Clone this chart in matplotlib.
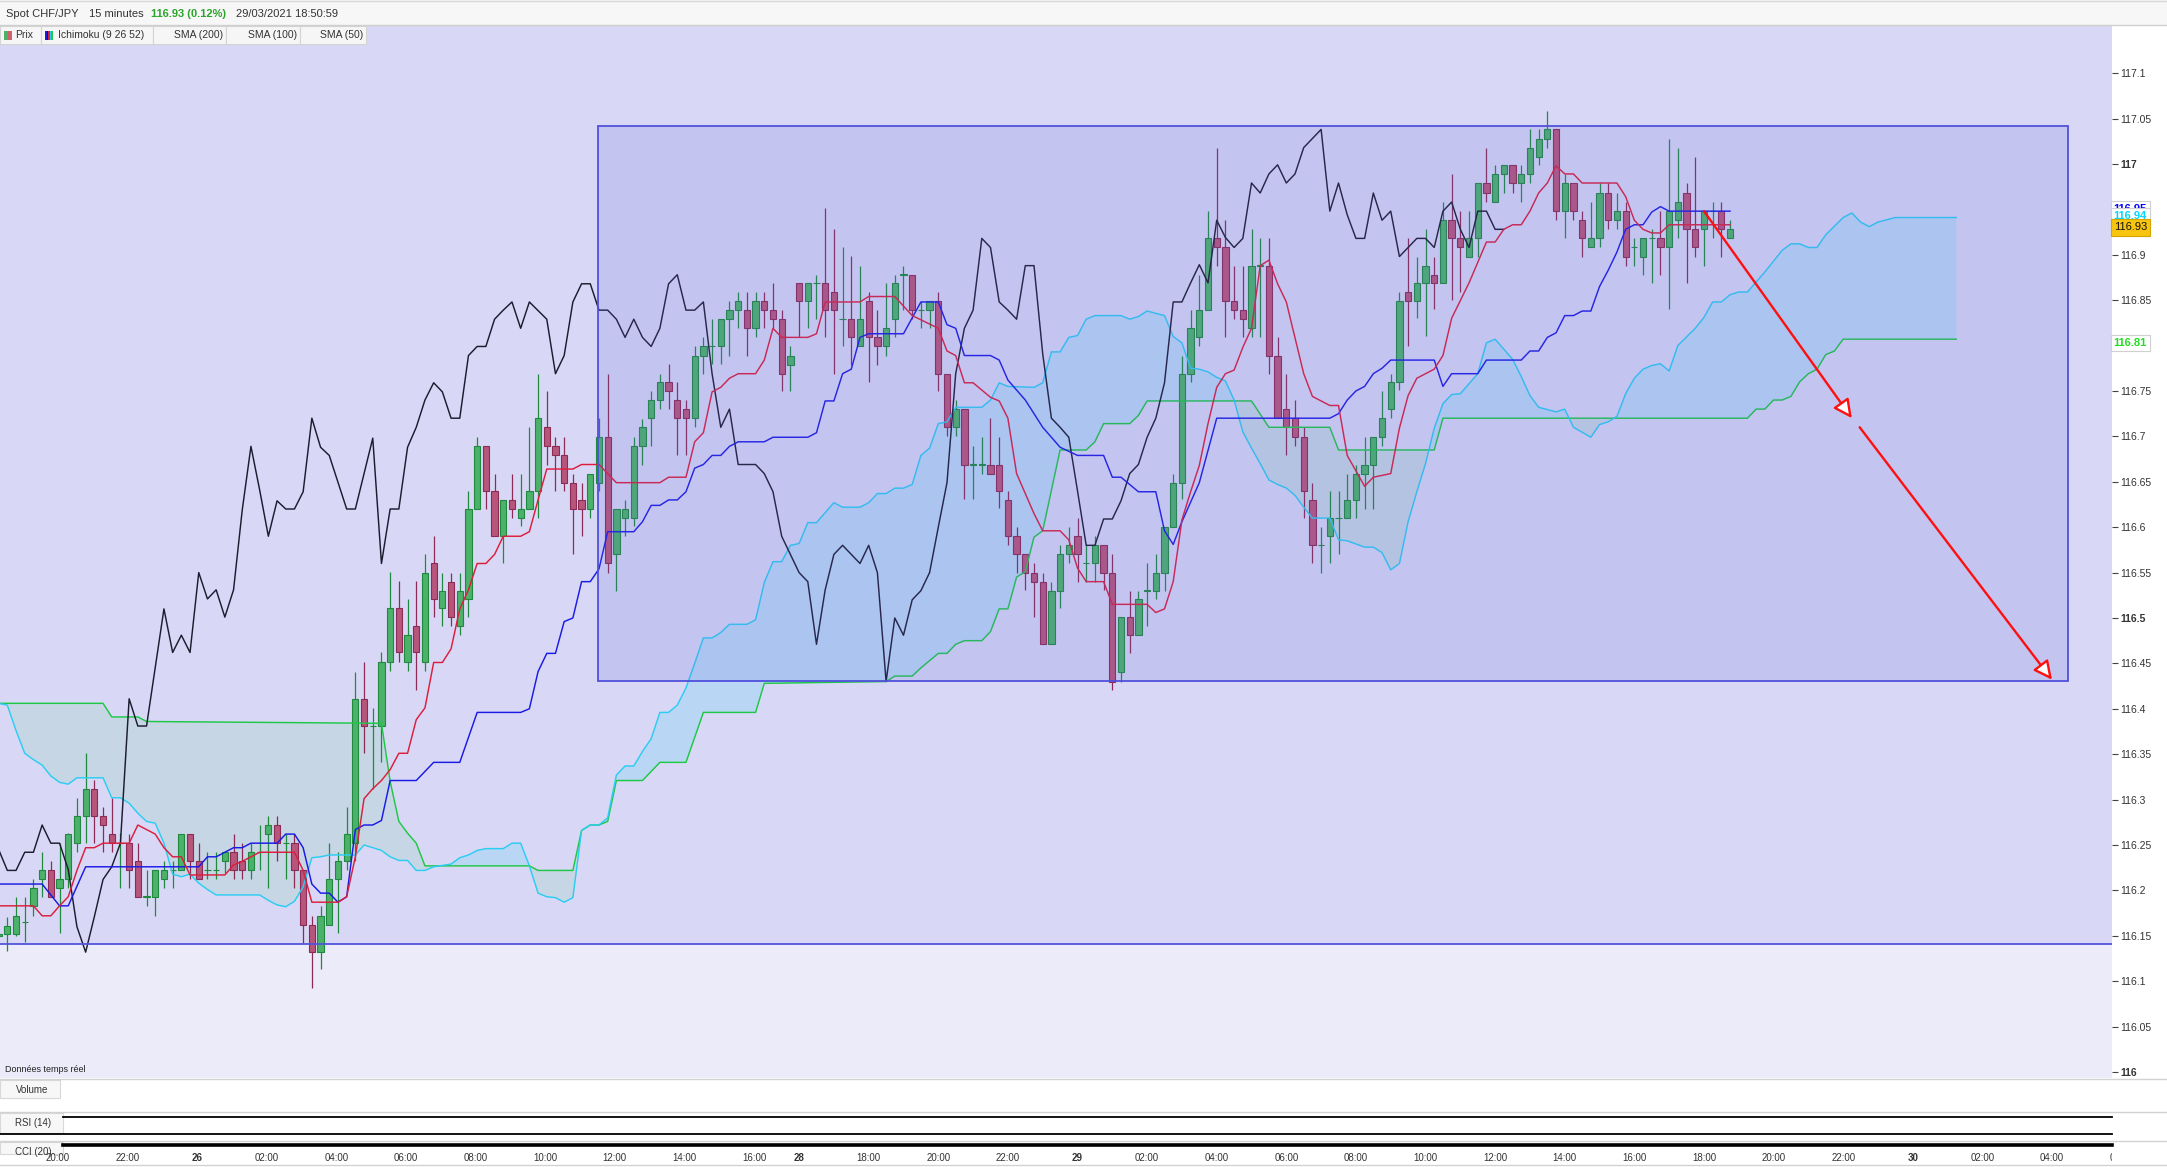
import numpy as np
import matplotlib
matplotlib.use("Agg")
import matplotlib.pyplot as plt
from matplotlib.patches import Rectangle
from matplotlib.lines import Line2D
import matplotlib.transforms as mtransforms

plt.rcParams['font.family'] = ['Liberation Sans', 'DejaVu Sans']
NARROW = ['Liberation Sans Narrow', 'Liberation Sans', 'DejaVu Sans']

# ---- 15 minute candles, bar -1 .. 198 ----
first_bar = -1
opens = [
    116.150, 116.152, 116.152, 116.165, 116.183, 116.212, 116.222, 116.203, 116.212, 116.252,
    116.282, 116.312, 116.282, 116.262, 116.252, 116.252, 116.232, 116.193, 116.193, 116.212,
    116.222, 116.222, 116.262, 116.232, 116.222, 116.222, 116.232, 116.242, 116.232, 116.222,
    116.242, 116.262, 116.272, 116.252, 116.252, 116.222, 116.162, 116.132, 116.162, 116.212,
    116.232, 116.252, 116.411, 116.381, 116.381, 116.452, 116.511, 116.452, 116.491, 116.452,
    116.560, 116.511, 116.540, 116.491, 116.521, 116.620, 116.689, 116.640, 116.590, 116.630,
    116.610, 116.620, 116.640, 116.710, 116.689, 116.679, 116.649, 116.630, 116.620, 116.649,
    116.699, 116.570, 116.610, 116.610, 116.689, 116.720, 116.740, 116.760, 116.740, 116.730,
    116.720, 116.789, 116.799, 116.799, 116.829, 116.839, 116.839, 116.819, 116.849, 116.839,
    116.829, 116.779, 116.869, 116.849, 116.869, 116.869, 116.859, 116.829, 116.829, 116.799,
    116.849, 116.809, 116.799, 116.829, 116.878, 116.878, 116.839, 116.839, 116.849, 116.769,
    116.710, 116.730, 116.669, 116.669, 116.669, 116.669, 116.630, 116.590, 116.570, 116.550,
    116.540, 116.471, 116.530, 116.570, 116.590, 116.560, 116.560, 116.580, 116.550, 116.440,
    116.501, 116.481, 116.530, 116.530, 116.550, 116.600, 116.649, 116.769, 116.809, 116.839,
    116.918, 116.908, 116.849, 116.839, 116.819, 116.888, 116.888, 116.789, 116.730, 116.720,
    116.699, 116.630, 116.580, 116.590, 116.610, 116.610, 116.630, 116.659, 116.669, 116.699,
    116.730, 116.760, 116.859, 116.849, 116.869, 116.878, 116.869, 116.938, 116.918, 116.898,
    116.918, 116.979, 116.958, 116.989, 116.999, 116.979, 116.989, 117.008, 117.028, 117.038,
    116.948, 116.979, 116.938, 116.908, 116.918, 116.968, 116.938, 116.948, 116.908, 116.898,
    116.918, 116.918, 116.908, 116.938, 116.968, 116.928, 116.928, 116.948, 116.948, 116.918,
]
highs = [
    116.156, 116.171, 116.193, 116.193, 116.212, 116.242, 116.232, 116.252, 116.263, 116.302,
    116.351, 116.322, 116.292, 116.302, 116.263, 116.262, 116.252, 116.222, 116.222, 116.232,
    116.232, 116.262, 116.262, 116.252, 116.242, 116.242, 116.242, 116.262, 116.252, 116.252,
    116.272, 116.282, 116.282, 116.262, 116.262, 116.222, 116.172, 116.183, 116.252, 116.242,
    116.292, 116.441, 116.451, 116.401, 116.462, 116.551, 116.541, 116.521, 116.541, 116.570,
    116.590, 116.550, 116.550, 116.550, 116.640, 116.699, 116.689, 116.659, 116.630, 116.659,
    116.659, 116.710, 116.769, 116.750, 116.699, 116.699, 116.659, 116.649, 116.659, 116.720,
    116.769, 116.620, 116.630, 116.699, 116.719, 116.750, 116.769, 116.780, 116.760, 116.740,
    116.799, 116.809, 116.829, 116.829, 116.849, 116.859, 116.859, 116.859, 116.859, 116.869,
    116.839, 116.799, 116.869, 116.869, 116.878, 116.952, 116.928, 116.909, 116.899, 116.888,
    116.859, 116.839, 116.869, 116.878, 116.888, 116.878, 116.849, 116.849, 116.859, 116.769,
    116.740, 116.730, 116.689, 116.699, 116.720, 116.699, 116.640, 116.600, 116.570, 116.560,
    116.550, 116.540, 116.580, 116.600, 116.610, 116.580, 116.590, 116.580, 116.570, 116.501,
    116.530, 116.530, 116.560, 116.570, 116.600, 116.659, 116.789, 116.839, 116.878, 116.948,
    117.018, 116.938, 116.888, 116.888, 116.928, 116.918, 116.918, 116.809, 116.769, 116.740,
    116.710, 116.649, 116.600, 116.640, 116.640, 116.659, 116.669, 116.699, 116.699, 116.750,
    116.769, 116.859, 116.918, 116.898, 116.928, 116.898, 116.958, 116.989, 116.948, 116.948,
    116.979, 117.018, 116.999, 116.999, 116.999, 116.999, 117.038, 117.038, 117.058, 117.038,
    116.989, 116.979, 116.948, 116.958, 116.979, 116.979, 116.968, 116.958, 116.918, 116.918,
    116.928, 116.948, 117.028, 117.018, 116.979, 117.008, 116.948, 116.958, 116.958, 116.938,
]
lows = [
    116.144, 116.133, 116.150, 116.143, 116.172, 116.193, 116.193, 116.153, 116.203, 116.242,
    116.252, 116.252, 116.242, 116.242, 116.203, 116.203, 116.193, 116.183, 116.172, 116.203,
    116.203, 116.222, 116.212, 116.212, 116.212, 116.212, 116.219, 116.212, 116.212, 116.212,
    116.222, 116.203, 116.232, 116.212, 116.203, 116.142, 116.092, 116.113, 116.162, 116.153,
    116.222, 116.232, 116.351, 116.312, 116.341, 116.442, 116.452, 116.442, 116.421, 116.442,
    116.501, 116.491, 116.491, 116.481, 116.501, 116.620, 116.620, 116.590, 116.561, 116.610,
    116.601, 116.620, 116.610, 116.669, 116.640, 116.640, 116.570, 116.590, 116.610, 116.640,
    116.550, 116.530, 116.590, 116.601, 116.669, 116.689, 116.730, 116.730, 116.680, 116.680,
    116.710, 116.769, 116.780, 116.780, 116.789, 116.819, 116.789, 116.809, 116.819, 116.819,
    116.750, 116.750, 116.809, 116.819, 116.829, 116.809, 116.769, 116.799, 116.779, 116.799,
    116.760, 116.779, 116.789, 116.809, 116.839, 116.829, 116.819, 116.819, 116.750, 116.700,
    116.700, 116.631, 116.631, 116.659, 116.659, 116.621, 116.580, 116.550, 116.531, 116.501,
    116.471, 116.471, 116.511, 116.560, 116.540, 116.540, 116.540, 116.531, 116.421, 116.430,
    116.461, 116.481, 116.491, 116.521, 116.530, 116.600, 116.631, 116.760, 116.799, 116.839,
    116.888, 116.809, 116.829, 116.809, 116.809, 116.809, 116.769, 116.720, 116.680, 116.689,
    116.610, 116.560, 116.550, 116.560, 116.570, 116.610, 116.610, 116.620, 116.620, 116.689,
    116.720, 116.751, 116.800, 116.830, 116.810, 116.840, 116.869, 116.850, 116.859, 116.898,
    116.898, 116.958, 116.958, 116.968, 116.968, 116.958, 116.979, 116.999, 117.018, 116.938,
    116.918, 116.938, 116.898, 116.908, 116.908, 116.928, 116.928, 116.888, 116.888, 116.878,
    116.869, 116.878, 116.840, 116.918, 116.869, 116.898, 116.888, 116.918, 116.898, 116.918,
]
closes = [
    116.152, 116.161, 116.172, 116.165, 116.203, 116.222, 116.193, 116.212, 116.262, 116.282,
    116.312, 116.282, 116.272, 116.252, 116.252, 116.222, 116.193, 116.193, 116.222, 116.222,
    116.222, 116.262, 116.232, 116.212, 116.222, 116.222, 116.242, 116.222, 116.222, 116.242,
    116.242, 116.272, 116.252, 116.252, 116.222, 116.162, 116.132, 116.172, 116.212, 116.232,
    116.262, 116.411, 116.381, 116.381, 116.452, 116.511, 116.462, 116.481, 116.462, 116.550,
    116.521, 116.530, 116.501, 116.530, 116.620, 116.689, 116.640, 116.590, 116.630, 116.620,
    116.620, 116.640, 116.720, 116.689, 116.679, 116.649, 116.620, 116.620, 116.659, 116.699,
    116.560, 116.620, 116.620, 116.689, 116.710, 116.740, 116.760, 116.750, 116.720, 116.720,
    116.789, 116.799, 116.799, 116.829, 116.839, 116.849, 116.819, 116.849, 116.839, 116.829,
    116.769, 116.789, 116.849, 116.869, 116.869, 116.839, 116.839, 116.829, 116.809, 116.829,
    116.809, 116.799, 116.819, 116.869, 116.878, 116.839, 116.839, 116.849, 116.769, 116.710,
    116.730, 116.669, 116.669, 116.669, 116.659, 116.640, 116.590, 116.570, 116.550, 116.540,
    116.471, 116.530, 116.570, 116.580, 116.570, 116.560, 116.580, 116.550, 116.430, 116.501,
    116.481, 116.521, 116.530, 116.550, 116.600, 116.649, 116.769, 116.819, 116.839, 116.918,
    116.908, 116.849, 116.839, 116.829, 116.888, 116.888, 116.789, 116.720, 116.710, 116.699,
    116.640, 116.580, 116.580, 116.610, 116.610, 116.630, 116.659, 116.669, 116.699, 116.720,
    116.760, 116.849, 116.849, 116.869, 116.888, 116.869, 116.938, 116.918, 116.908, 116.918,
    116.979, 116.968, 116.989, 116.999, 116.979, 116.989, 117.018, 117.028, 117.038, 116.948,
    116.979, 116.948, 116.918, 116.918, 116.968, 116.938, 116.948, 116.898, 116.908, 116.918,
    116.918, 116.908, 116.948, 116.958, 116.928, 116.908, 116.948, 116.948, 116.928, 116.928,
]

# ---- Ichimoku lines, (bar, price) vertices ----
tenkan = [(-1, 116.183), (3, 116.183), (4, 116.172), (5, 116.172), (6, 116.183), (7, 116.193),
          (8, 116.222), (9, 116.247), (10, 116.247), (11, 116.252), (14, 116.252), (15, 116.272),
          (16, 116.267), (17, 116.262), (18, 116.247), (19, 116.237), (20, 116.237), (21, 116.217),
          (25, 116.217), (26, 116.228), (27, 116.232), (28, 116.237), (29, 116.242), (33, 116.242),
          (34, 116.222), (35, 116.187), (38, 116.187), (39, 116.193), (40, 116.237), (41, 116.301),
          (42, 116.312), (43, 116.321), (44, 116.333), (45, 116.351), (46, 116.351), (47, 116.388),
          (48, 116.401), (49, 116.451), (50, 116.451), (51, 116.466), (52, 116.510), (53, 116.531),
          (54, 116.560), (55, 116.560), (56, 116.570), (57, 116.590), (59, 116.590), (60, 116.595),
          (61, 116.630), (62, 116.664), (65, 116.664), (66, 116.669), (68, 116.669), (70, 116.649),
          (75, 116.649), (76, 116.655), (78, 116.655), (79, 116.694), (80, 116.704), (81, 116.749),
          (82, 116.754), (83, 116.764), (84, 116.769), (86, 116.769), (87, 116.784), (88, 116.819),
          (89, 116.809), (92, 116.809), (93, 116.813), (94, 116.848), (98, 116.848), (99, 116.854),
          (102, 116.854), (104, 116.833), (107, 116.819), (108, 116.794), (109, 116.789),
          (110, 116.759), (111, 116.759), (113, 116.743), (114, 116.739), (115, 116.720),
          (116, 116.659), (118, 116.615), (119, 116.596), (121, 116.596), (122, 116.586),
          (123, 116.555), (124, 116.540), (126, 116.540), (127, 116.515), (131, 116.515),
          (132, 116.506), (133, 116.510), (134, 116.540), (135, 116.608), (136, 116.639),
          (137, 116.668), (138, 116.714), (139, 116.754), (140, 116.769), (141, 116.773),
          (142, 116.798), (143, 116.819), (144, 116.888), (145, 116.894), (146, 116.868),
          (147, 116.848), (149, 116.769), (150, 116.744), (152, 116.734), (153, 116.734),
          (154, 116.679), (156, 116.645), (157, 116.655), (159, 116.659), (160, 116.709),
          (161, 116.745), (162, 116.764), (164, 116.774), (165, 116.789), (166, 116.830),
          (168, 116.869), (170, 116.914), (171, 116.914), (172, 116.928), (173, 116.933),
          (174, 116.933), (175, 116.948), (176, 116.968), (177, 116.979), (178, 116.998),
          (179, 116.989), (180, 116.989), (181, 116.979), (185, 116.979), (186, 116.964),
          (187, 116.938), (188, 116.928), (189, 116.924), (190, 116.924), (191, 116.933),
          (198, 116.933)]

kijun = [(-1, 116.207), (4, 116.207), (6, 116.183), (7, 116.183), (9, 116.226), (22, 116.226),
         (23, 116.237), (24, 116.237), (25, 116.242), (26, 116.247), (27, 116.247), (28, 116.252),
         (31, 116.252), (32, 116.262), (33, 116.262), (34, 116.247), (35, 116.207), (36, 116.197),
         (37, 116.197), (38, 116.187), (39, 116.193), (40, 116.267), (41, 116.272), (42, 116.272),
         (43, 116.277), (44, 116.321), (47, 116.321), (49, 116.341), (52, 116.341), (54, 116.396),
         (59, 116.396), (60, 116.400), (61, 116.441), (62, 116.461), (63, 116.461), (64, 116.496),
         (65, 116.500), (66, 116.540), (67, 116.540), (68, 116.554), (69, 116.595), (72, 116.595),
         (73, 116.606), (74, 116.624), (75, 116.624), (76, 116.630), (77, 116.630), (78, 116.639),
         (79, 116.665), (80, 116.669), (81, 116.679), (82, 116.679), (83, 116.689), (84, 116.694),
         (87, 116.694), (88, 116.699), (92, 116.699), (93, 116.704), (94, 116.739), (95, 116.739),
         (96, 116.769), (97, 116.774), (98, 116.809), (99, 116.813), (103, 116.813), (105, 116.848),
         (107, 116.848), (108, 116.823), (109, 116.819), (110, 116.789), (113, 116.789),
         (114, 116.784), (115, 116.762), (117, 116.740), (119, 116.710), (121, 116.688),
         (123, 116.679), (126, 116.679), (127, 116.655), (128, 116.655), (130, 116.639),
         (132, 116.639), (133, 116.596), (134, 116.581), (135, 116.606), (137, 116.649),
         (139, 116.720), (152, 116.720), (153, 116.725), (154, 116.740), (155, 116.750),
         (156, 116.755), (157, 116.769), (158, 116.775), (159, 116.784), (164, 116.784),
         (165, 116.755), (166, 116.769), (169, 116.769), (170, 116.784), (174, 116.784),
         (175, 116.794), (176, 116.794), (177, 116.809), (178, 116.814), (179, 116.833),
         (180, 116.833), (181, 116.838), (182, 116.838), (183, 116.865), (184, 116.883),
         (185, 116.903), (186, 116.928), (187, 116.933), (188, 116.933), (189, 116.947),
         (190, 116.953), (191, 116.948), (198, 116.948)]

chikou = [(-1, 116.245), (0, 116.222), (1, 116.222), (2, 116.242), (3, 116.242), (4, 116.272),
          (5, 116.252), (6, 116.252), (7, 116.223), (8, 116.160), (9, 116.132), (10, 116.171),
          (11, 116.212), (12, 116.226), (13, 116.252), (14, 116.411), (15, 116.381), (16, 116.381),
          (18, 116.510), (19, 116.462), (20, 116.481), (21, 116.462), (22, 116.550), (23, 116.521),
          (24, 116.531), (25, 116.501), (26, 116.531), (27, 116.619), (28, 116.689), (29, 116.641),
          (30, 116.590), (31, 116.629), (32, 116.620), (33, 116.620), (34, 116.639), (35, 116.720),
          (36, 116.688), (37, 116.679), (39, 116.620), (40, 116.620), (42, 116.698), (43, 116.560),
          (44, 116.620), (45, 116.620), (46, 116.688), (47, 116.710), (48, 116.740), (49, 116.759),
          (50, 116.749), (51, 116.720), (52, 116.720), (53, 116.789), (54, 116.799), (55, 116.799),
          (56, 116.829), (57, 116.839), (58, 116.848), (59, 116.819), (60, 116.848), (62, 116.829),
          (63, 116.769), (64, 116.789), (65, 116.848), (66, 116.868), (67, 116.868), (68, 116.839),
          (69, 116.839), (70, 116.829), (71, 116.809), (72, 116.829), (73, 116.809), (74, 116.799),
          (75, 116.819), (76, 116.868), (77, 116.878), (78, 116.839), (79, 116.839), (80, 116.848),
          (81, 116.769), (82, 116.710), (83, 116.730), (84, 116.669), (86, 116.669), (87, 116.659),
          (88, 116.639), (89, 116.590), (90, 116.570), (91, 116.550), (92, 116.540), (93, 116.471),
          (94, 116.531), (95, 116.570), (96, 116.580), (98, 116.560), (99, 116.580), (100, 116.550),
          (101, 116.430), (102, 116.500), (103, 116.481), (104, 116.520), (105, 116.530),
          (106, 116.550), (107, 116.600), (108, 116.649), (109, 116.769), (110, 116.819),
          (111, 116.839), (112, 116.918), (113, 116.908), (114, 116.848), (115, 116.839),
          (116, 116.829), (117, 116.888), (118, 116.888), (119, 116.791), (120, 116.720),
          (121, 116.710), (122, 116.699), (123, 116.640), (124, 116.580), (125, 116.580),
          (126, 116.609), (127, 116.609), (128, 116.629), (129, 116.659), (130, 116.669),
          (131, 116.699), (132, 116.720), (133, 116.759), (134, 116.848), (135, 116.848),
          (136, 116.869), (137, 116.889), (138, 116.869), (139, 116.938), (140, 116.919),
          (141, 116.908), (142, 116.918), (143, 116.979), (144, 116.968), (145, 116.989),
          (146, 116.999), (147, 116.979), (148, 116.989), (149, 117.018), (151, 117.038),
          (152, 116.948), (153, 116.979), (154, 116.944), (155, 116.918), (156, 116.918),
          (157, 116.968), (158, 116.938), (159, 116.948), (160, 116.898), (161, 116.908),
          (162, 116.918), (163, 116.918), (164, 116.908), (165, 116.948), (166, 116.958),
          (167, 116.928), (168, 116.908), (169, 116.948), (170, 116.948), (171, 116.928),
          (172, 116.928)]

senkou_a = [(-1, 116.406), (0, 116.404), (1, 116.376), (2, 116.351), (3, 116.344), (4, 116.338),
            (5, 116.326), (6, 116.319), (7, 116.317), (8, 116.324), (11, 116.324), (12, 116.302),
            (13, 116.302), (14, 116.296), (15, 116.285), (16, 116.276), (17, 116.274), (18, 116.252),
            (19, 116.218), (20, 116.215), (21, 116.218), (22, 116.208), (23, 116.201), (24, 116.195),
            (29, 116.195), (30, 116.189), (31, 116.184), (32, 116.182), (33, 116.188), (34, 116.204),
            (35, 116.236), (36, 116.237), (37, 116.239), (40, 116.239), (41, 116.250), (43, 116.244),
            (44, 116.237), (45, 116.233), (46, 116.233), (47, 116.222), (48, 116.222), (49, 116.226),
            (51, 116.229), (52, 116.236), (53, 116.239), (54, 116.244), (55, 116.246), (57, 116.246),
            (58, 116.252), (59, 116.252), (60, 116.227), (61, 116.197), (62, 116.193), (63, 116.192),
            (64, 116.187), (65, 116.192), (66, 116.266), (67, 116.272), (68, 116.272), (69, 116.280),
            (70, 116.327), (71, 116.337), (72, 116.337), (73, 116.353), (74, 116.367), (75, 116.396),
            (76, 116.396), (77, 116.404), (78, 116.423), (79, 116.450), (80, 116.478), (81, 116.478),
            (82, 116.484), (83, 116.493), (85, 116.493), (86, 116.498), (87, 116.539), (88, 116.562),
            (89, 116.562), (90, 116.580), (91, 116.582), (92, 116.605), (93, 116.605), (95, 116.627),
            (96, 116.622), (98, 116.622), (99, 116.627), (100, 116.637), (101, 116.637),
            (102, 116.643), (103, 116.643), (104, 116.647), (105, 116.679), (106, 116.687),
            (107, 116.714), (108, 116.716), (109, 116.732), (112, 116.732), (113, 116.740),
            (114, 116.759), (115, 116.755), (118, 116.754), (119, 116.759), (120, 116.793),
            (121, 116.793), (122, 116.809), (123, 116.811), (124, 116.829), (125, 116.833),
            (128, 116.833), (129, 116.829), (130, 116.832), (131, 116.838), (133, 116.833),
            (134, 116.810), (135, 116.803), (136, 116.775), (137, 116.774), (138, 116.771),
            (139, 116.765), (140, 116.761), (141, 116.740), (142, 116.705), (143, 116.687),
            (144, 116.670), (145, 116.652), (146, 116.647), (147, 116.643), (148, 116.635),
            (149, 116.622), (150, 116.610), (152, 116.610), (153, 116.586), (154, 116.585),
            (156, 116.578), (157, 116.578), (158, 116.572), (159, 116.553), (160, 116.560),
            (161, 116.606), (162, 116.639), (163, 116.670), (164, 116.709), (165, 116.736),
            (166, 116.746), (167, 116.747), (168, 116.758), (169, 116.769), (170, 116.803),
            (171, 116.807), (173, 116.785), (174, 116.766), (175, 116.745), (176, 116.732),
            (178, 116.727), (179, 116.730), (180, 116.710), (182, 116.699), (183, 116.713),
            (184, 116.716), (185, 116.722), (186, 116.747), (187, 116.764), (188, 116.774),
            (189, 116.778), (190, 116.780), (191, 116.772), (192, 116.800), (194, 116.819),
            (195, 116.831), (196, 116.848), (197, 116.848), (198, 116.856), (199, 116.859),
            (200, 116.859), (202, 116.881), (204, 116.905), (205, 116.912), (206, 116.912),
            (207, 116.908), (208, 116.908), (209, 116.922), (211, 116.941), (212, 116.946),
            (213, 116.936), (214, 116.931), (215, 116.936), (217, 116.941), (224, 116.941)]

senkou_b = [(-1, 116.406), (11, 116.406), (12, 116.391), (15, 116.391), (16, 116.386),
            (43, 116.384), (44, 116.320), (45, 116.276), (46, 116.263), (47, 116.252),
            (48, 116.227), (60, 116.227), (61, 116.222), (65, 116.222), (66, 116.266),
            (67, 116.272), (68, 116.272), (69, 116.276), (70, 116.321), (73, 116.321),
            (75, 116.341), (78, 116.341), (80, 116.396), (86, 116.396), (87, 116.428),
            (101, 116.430), (102, 116.436), (104, 116.436), (105, 116.445), (107, 116.461),
            (108, 116.461), (109, 116.471), (110, 116.475), (112, 116.475), (113, 116.485),
            (114, 116.510), (115, 116.510), (116, 116.545), (117, 116.551), (118, 116.589),
            (119, 116.596), (121, 116.685), (124, 116.685), (125, 116.694), (126, 116.714),
            (129, 116.714), (130, 116.723), (131, 116.739), (143, 116.739), (145, 116.710),
            (152, 116.710), (153, 116.685), (164, 116.685), (165, 116.720), (200, 116.720),
            (201, 116.730), (202, 116.730), (203, 116.740), (204, 116.740), (205, 116.744),
            (206, 116.760), (207, 116.769), (208, 116.774), (209, 116.790), (210, 116.794),
            (211, 116.807), (224, 116.807)]

# drawn objects
support_level = 116.141
box_bars = (67.9, 236.8)
box_prices = (116.431, 117.042)
arrow_starts = [(195.0, 116.948), (212.9, 116.710)]
arrow_ends = [(212.0, 116.720), (235.0, 116.432)]

# axis labels
price_ticks = np.round(np.arange(116.0, 117.1001, 0.05), 2)
day1_labels = ['18:00', '20:00', '22:00', '26', '02:00', '04:00', '06:00', '08:00',
               '10:00', '12:00', '14:00', '16:00']
day2_labels = ['28', '18:00', '20:00', '22:00', '29', '02:00', '04:00', '06:00', '08:00',
               '10:00', '12:00', '14:00', '16:00', '18:00', '20:00', '22:00', '30',
               '02:00', '04:00', '06:00']
date_labels = {'26', '28', '29', '30'}
last_values = [('116.95', 116.9505, '#0000ff', 'white'),
               ('116.94', 116.9425, '#00d8ff', 'white'),
               ('116.93', 116.930, '#111111', '#f7c50f'),
               ('116.81', 116.8025, '#22dd22', 'white')]

# ---------------------------------------------------------------------------
W, H = 2167, 1167
fig = plt.figure(figsize=(W / 100, H / 100), dpi=100)
fig.patch.set_facecolor('white')


def fx(x):
    return x / W


def fy(y):
    return 1 - y / H


k_left, k_right = -0.843, 241.9
ax = fig.add_axes([0, fy(1078), fx(2112), (1078 - 25) / H])
ax.set_xlim(k_left, k_right)
ax.set_ylim(115.9934, 117.153)
ax.set_facecolor('#ebebf9')
for s in ax.spines.values():
    s.set_visible(False)
ax.tick_params(axis='x', bottom=False, labelbottom=False)

ax.axhspan(support_level, 118, color='#d8d8f6', lw=0, zorder=0.5)

# cloud
grid = np.arange(-1, 224.001, 0.05)
ka, va = zip(*senkou_a)
kb, vb = zip(*senkou_b)
sa = np.interp(grid, ka, va)
sb = np.interp(grid, kb, vb)
ax.fill_between(grid, sa, sb, where=sa >= sb, interpolate=True, color='#b9d7f5', lw=0, zorder=2)
ax.fill_between(grid, sa, sb, where=sa < sb, interpolate=True, color='#c6d6e4', lw=0, zorder=2)

# candles
bars = np.arange(first_bar, first_bar + len(opens))
o, h, l, c = (np.array(a) for a in (opens, highs, lows, closes))
up = c >= o
face = np.where(up, '#4cb26a', '#b8557a')
edge = np.where(up, '#1f8a3e', '#8c2b55')
ax.vlines(bars, l, h, colors=edge, lw=0.9, zorder=4)
ax.bar(bars, np.maximum(np.abs(c - o), 0.0004), bottom=np.minimum(o, c), width=0.72,
       color=face, edgecolor=edge, linewidth=0.8, zorder=5)

# ichimoku lines
for pts, col in [(senkou_b, '#1ec845'), (senkou_a, '#2ccdf2'), (chikou, '#1c1c30'),
                 (kijun, '#1a1ae6'), (tenkan, '#dc1e3c')]:
    kx, vy = zip(*pts)
    ax.plot(kx, vy, color=col, lw=1.05, zorder=6, solid_joinstyle='round')

# drawings
ax.axhline(support_level, color='#5454dc', lw=1.3, zorder=8)
ax.add_patch(Rectangle((box_bars[0], box_prices[0]), box_bars[1] - box_bars[0],
                       box_prices[1] - box_prices[0], facecolor=(100 / 255, 100 / 255, 220 / 255, 0.165),
                       edgecolor='#5050dc', lw=1.3, zorder=8))
for (x0, y0), (x1, y1) in zip(arrow_starts, arrow_ends):
    ax.annotate('', xy=(x1, y1), xytext=(x0, y0), zorder=9,
                arrowprops=dict(arrowstyle='-|>,head_length=0.8,head_width=0.4',
                                ec='#ff1010', fc='white', lw=1.7, mutation_scale=14,
                                shrinkA=0, shrinkB=0))

# right price axis
ax.yaxis.tick_right()
ax.set_yticks(price_ticks)
ax.set_yticklabels([f'{v:g}' for v in price_ticks])
ax.tick_params(axis='y', direction='out', length=4, width=0.8, color='#444444', pad=2,
               labelsize=7.5, labelcolor='#333333')
for v, lab in zip(price_ticks, ax.get_yticklabels()):
    if abs(v * 2 - round(v * 2)) < 1e-6:
        lab.set_fontweight('bold')

trans = mtransforms.blended_transform_factory(ax.transAxes, ax.transData)
for i, (txt, val, tcol, bg) in enumerate(last_values):
    ax.text(1.0008, val, txt, transform=trans, ha='left', va='center', fontsize=8,
            color=tcol, fontweight='bold' if bg == 'white' else 'normal', clip_on=False,
            zorder=20 + i,
            bbox=dict(boxstyle='square,pad=0.28', fc=bg,
                      ec='#d0d0d0' if bg == 'white' else '#d6a400', lw=0.8))

# header bar and legend row
fig.patches.append(Rectangle((0, fy(25)), 1, 25 / H, transform=fig.transFigure,
                             fc='#f7f7f7', ec='none', zorder=1))
fig.add_artist(Line2D([0, 1], [fy(25), fy(25)], color='#cfcfcf', lw=1, transform=fig.transFigure))
fig.add_artist(Line2D([0, 1], [fy(0.5), fy(0.5)], color='#d8d8d8', lw=1, transform=fig.transFigure))
hy = fy(14)
fig.text(fx(6), hy, 'Spot CHF/JPY', fontsize=8, color='#333333', va='center')
fig.text(fx(89), hy, '15 minutes', fontsize=8, color='#333333', va='center')
fig.text(fx(151), hy, '116.93 (0.12%)', fontsize=8, color='#2aa52a', va='center', fontweight='bold')
fig.text(fx(236), hy, '29/03/2021 18:50:59', fontsize=8, color='#333333', va='center')

legend_boxes = [(0, 41, 'Prix', 15, 'left'), (41, 153, 'Ichimoku (9 26 52)', 58, 'left'),
                (153, 226, 'SMA (200)', 223, 'right'), (226, 300, 'SMA (100)', 297, 'right'),
                (300, 366, 'SMA (50)', 363, 'right')]
for x0, x1, txt, tx, ha in legend_boxes:
    fig.patches.append(Rectangle((fx(x0), fy(44)), fx(x1 - x0), 18 / H, transform=fig.transFigure,
                                 fc='#f6f6f6', ec='#d4d4d4', lw=0.8, zorder=1))
    fig.text(fx(tx), fy(35.5), txt, fontsize=7.5, color='#333333', va='center', ha=ha)
for x0, col in [(4, '#4cb26a'), (8, '#d0606a')]:
    fig.patches.append(Rectangle((fx(x0), fy(40)), fx(4), 9 / H, transform=fig.transFigure,
                                 fc=col, ec='none', zorder=2))
for i, col in enumerate(['#1a1ae6', '#111111', '#dc1e3c', '#2ccdf2', '#1ec845']):
    fig.patches.append(Rectangle((fx(45 + 1.6 * i), fy(40)), fx(1.6), 9 / H,
                                 transform=fig.transFigure, fc=col, ec='none', zorder=2))

fig.text(fx(5), fy(1070), 'Données temps réel', fontsize=6.5, color='#222222', va='center',
         family=NARROW)

# lower panels (pixel coordinates)
axp = fig.add_axes([0, 0, 1, fy(1078)])
axp.set_xlim(0, W)
axp.set_ylim(H, 1078)
axp.axis('off')
for y in (1079, 1112, 1141, 1165):
    axp.plot([0, W], [y, y], color='#d2d2d2', lw=1)
axp.plot([63, 2112], [1117, 1117], color='black', lw=1.3)
axp.plot([0, 2112], [1134, 1134], color='black', lw=1.3)
axp.plot([63, 2112], [1145, 1145], color='black', lw=2.6)
for y0, hgt, wid, txt in [(1080, 18, 60, 'Volume'), (1113, 20, 63, 'RSI (14)'),
                          (1142, 12, 63, 'CCI (20)')]:
    axp.add_patch(Rectangle((0, y0), wid, hgt, fc='#f7f7f7', ec='#d8d8d8', lw=0.8, zorder=1))
    axp.text(wid / 2 + 2, y0 + 10, txt, fontsize=7, color='#333333', ha='center', va='center',
             family=NARROW, zorder=2)

# time axis labels, same bar scale as the price chart
axt = fig.add_axes([0, 0, fx(2112), fy(1078)])
axt.set_xlim(k_left, k_right)
axt.set_ylim(H, 1078)
axt.axis('off')
tick_k = list(5.82 - 8 + 8 * np.arange(len(day1_labels))) + \
    list(91.0 + 8 * np.arange(len(day2_labels)))
for k, lab in zip(tick_k, day1_labels + day2_labels):
    axt.text(k, 1158, lab, fontsize=7, color='#333333', ha='center', va='center',
             fontweight='bold' if lab in date_labels else 'normal', family=NARROW,
             clip_on=True, zorder=3)

fig.savefig('out.png', dpi=100, facecolor='white')
